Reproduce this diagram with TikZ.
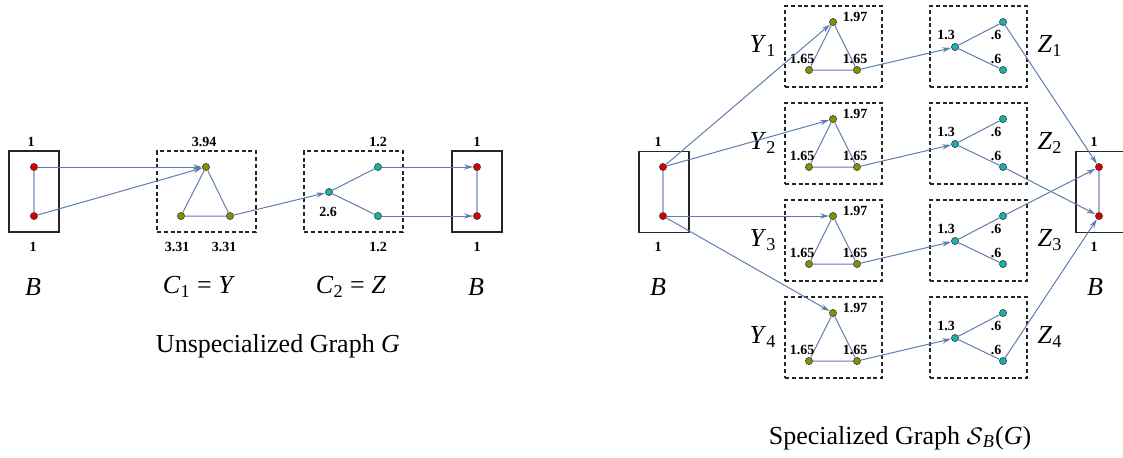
\documentclass[tikz,border=0pt]{standalone}
\usepackage{fontspec}
\setmainfont{Liberation Serif}
\usetikzlibrary{arrows.meta}

\definecolor{vred}{RGB}{215,0,0}
\definecolor{volive}{RGB}{125,150,0}
\definecolor{vteal}{RGB}{25,175,170}
\definecolor{linkblue}{RGB}{95,125,175}

\begin{document}
\begin{tikzpicture}[x=0.5pt, y=-0.5pt,
    vert/.style={circle, draw=black!75, line width=0.3pt, fill=#1,
                 inner sep=0pt, minimum size=3.6pt},
    sbox/.style={draw=black!85, line width=0.85pt, inner sep=0pt,
                 minimum width=25pt, minimum height=40.5pt},
    dbox/.style={draw=black!85, line width=0.75pt, dash pattern=on 2pt off 1.4pt,
                 inner sep=0pt, minimum width=#1, minimum height=40.5pt},
    link/.style={draw=linkblue, line width=0.5pt},
    arr/.style={link, -{Stealth[length=4.5pt, width=2.6pt]}},
    bline/.style={draw=linkblue!55, line width=1pt},
    num/.style={font=\fontsize{7}{8}\selectfont\bfseries},
    lbl/.style={font=\fontsize{13}{15}\selectfont}
  ]
  \useasboundingbox (0,0) rectangle (1123,457);
  \clip (0,0) rectangle (1123,457);

  % Unspecialized graph - boxes
  \node[sbox] (lbox) at (34,191.5) {};
  \node[dbox=49.5pt] (cybox) at (206.5,191.5) {};
  \node[dbox=49.5pt] (czbox) at (353.5,191.5) {};
  \node[sbox] (rbox) at (477,191.5) {};

  % Unspecialized graph - vertices
  \node[vert=vred] (lb1) at (34,167) {};
  \node[vert=vred] (lb2) at (34,216) {};
  \node[vert=volive] (cy1) at (206,167) {};
  \node[vert=volive] (cy2) at (181,216) {};
  \node[vert=volive] (cy3) at (230,216) {};
  \node[vert=vteal] (cz1) at (329,192) {};
  \node[vert=vteal] (cz2) at (378,167) {};
  \node[vert=vteal] (cz3) at (378,216) {};
  \node[vert=vred] (rb1) at (477,167) {};
  \node[vert=vred] (rb2) at (477,216) {};

  % Unspecialized graph - edges
  \draw[bline] (lb1) -- (lb2);
  \draw[bline] (rb1) -- (rb2);
  \draw[arr] (lb1) -- (cy1);
  \draw[arr] (lb2) -- (cy1);
  \draw[link] (cy1) -- (cy2) -- (cy3) -- (cy1);
  \draw[arr] (cy3) -- (cz1);
  \draw[link] (cz1) -- (cz2);
  \draw[link] (cz1) -- (cz3);
  \draw[arr] (cz2) -- (rb1);
  \draw[arr] (cz3) -- (rb2);

  % Unspecialized graph - weights and names
  \node[num] (lbw1) at (31,142) {1};
  \node[num] (lbw2) at (33,247) {1};
  \node[num] (cyw1) at (204,142) {3.94};
  \node[num] (cyw2) at (177,247) {3.31};
  \node[num] (cyw3) at (224,247) {3.31};
  \node[num] (czw1) at (328,212) {2.6};
  \node[num] (czw2) at (378,142) {1.2};
  \node[num] (czw3) at (378,247) {1.2};
  \node[num] (rbw1) at (477,142) {1};
  \node[num] (rbw2) at (477,247) {1};
  \node[lbl] (lbname) at (33,287) {\textit{B}};
  \node[lbl] (cyname) at (199,287) {\textit{C}\textsubscript{1} = \textit{Y}};
  \node[lbl] (czname) at (351,287) {\textit{C}\textsubscript{2} = \textit{Z}};
  \node[lbl] (rbname) at (476,287) {\textit{B}};
  \node[lbl] (ucap) at (278,346) {Unspecialized Graph \textit{G}};

  % Specialized graph - the four copies of Y and Z
  \foreach \i/\yc in {1/46, 2/143, 3/240, 4/337} {
    \node[dbox=48.5pt] (yb\i) at (833.5,\yc+0.5) {};
    \node[dbox=48.5pt] (zb\i) at (978.5,\yc+0.5) {};
    \node[vert=volive] (yt\i) at (833,\yc-24) {};
    \node[vert=volive] (yl\i) at (809,\yc+24) {};
    \node[vert=volive] (yr\i) at (857,\yc+24) {};
    \node[vert=vteal] (zl\i) at (955,\yc+1) {};
    \node[vert=vteal] (zt\i) at (1003,\yc-24) {};
    \node[vert=vteal] (zr\i) at (1003,\yc+24) {};
    \draw[link] (yt\i) -- (yl\i) -- (yr\i) -- (yt\i);
    \draw[link] (zl\i) -- (zt\i);
    \draw[link] (zl\i) -- (zr\i);
    \draw[arr] (yr\i) -- (zl\i);
    \node[num] (ytw\i) at (855,\yc-29) {1.97};
    \node[num] (ylw\i) at (802,\yc+13) {1.65};
    \node[num] (yrw\i) at (855,\yc+13) {1.65};
    \node[num] (zlw\i) at (946,\yc-11) {1.3};
    \node[num] (ztw\i) at (996,\yc-11) {.6};
    \node[num] (zrw\i) at (996,\yc+13) {.6};
    \node[lbl] (yname\i) at (763,\yc) {\textit{Y}\textsubscript{\i}};
    \node[lbl] (zname\i) at (1050,\yc) {\textit{Z}\textsubscript{\i}};
  }

  % Specialized graph - B on both sides
  \node[sbox] (sbox1) at (664,192) {};
  \node[sbox] (sbox2) at (1101,192) {};
  \node[vert=vred] (sb1) at (663,167) {};
  \node[vert=vred] (sb2) at (663,216) {};
  \node[vert=vred] (sr1) at (1099,167) {};
  \node[vert=vred] (sr2) at (1099,216) {};
  \draw[bline] (sb1) -- (sb2);
  \draw[bline] (sr1) -- (sr2);
  \draw[arr] (sb1) -- (yt1);
  \draw[arr] (sb1) -- (yt2);
  \draw[arr] (sb2) -- (yt3);
  \draw[arr] (sb2) -- (yt4);
  \draw[arr] (zt1) -- (sr1);
  \draw[arr] (zr2) -- (sr2);
  \draw[arr] (zt3) -- (sr1);
  \draw[arr] (zr4) -- (sr2);

  \node[num] (sbw1) at (658,142) {1};
  \node[num] (sbw2) at (658,247) {1};
  \node[num] (srw1) at (1094,142) {1};
  \node[num] (srw2) at (1094,247) {1};
  \node[lbl] (sbname) at (658,287) {\textit{B}};
  \node[lbl] (srname) at (1095,287) {\textit{B}};
  \node[lbl] (scap) at (900,438) {Specialized Graph $\mathcal{S}$\textsubscript{\textit{B}}(\textit{G})};

\end{tikzpicture}
\end{document}
